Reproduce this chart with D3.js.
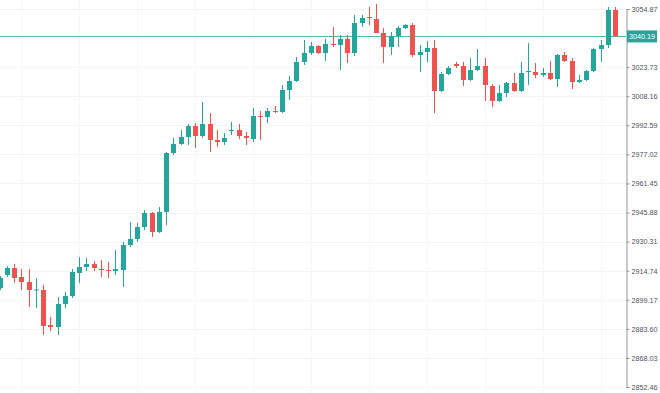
<!DOCTYPE html>
<html>
<head>
<meta charset="utf-8">
<script src="https://cdn.jsdelivr.net/npm/d3@7"></script>
<style>
  body { margin: 0; background: #fff; }
  svg { display: block; font-family: "Liberation Sans", Arial, sans-serif; }
</style>
</head>
<body>
<div id="chart"></div>
<script>
const WIDTH = 660;
const HEIGHT = 393;
const PLOT_RIGHT = 626;

// candle values, oldest first
const opens = [
  2905.47, 2912.43, 2916.18, 2911.36, 2908.68, 2904.39, 2904.39, 2885.65, 2884.58, 2896.90,
  2901.18, 2913.50, 2916.71, 2918.32, 2915.64, 2915.10, 2914.57, 2915.10, 2928.49, 2931.71,
  2938.13, 2945.63, 2935.45, 2946.16, 2977.76, 2982.58, 2986.33, 2992.22, 2986.86, 2993.29,
  2984.72, 2983.65, 2989.54, 2990.07, 2986.86, 2985.26, 2997.57, 2997.04, 3000.25, 2999.71,
  3011.49, 3016.31, 3026.49, 3031.31, 3035.06, 3031.31, 3036.13, 3035.59, 3038.81, 3031.31,
  3047.37, 3050.59, 3049.52, 3042.02, 3034.52, 3040.41, 3044.70, 3046.30, 3030.24, 3031.84,
  3033.99, 3010.96, 3020.06, 3025.42, 3024.35, 3016.85, 3022.20, 3024.35, 3013.64, 3005.60,
  3009.89, 3015.24, 3010.96, 3021.13, 3021.13, 3019.53, 3020.60, 3017.39, 3030.24, 3027.02,
  3015.78, 3016.85, 3021.67, 3033.45, 3035.59, 3054.33
];
const highs = [
  2911.89, 2917.25, 2918.32, 2915.64, 2915.64, 2910.82, 2907.07, 2889.94, 2900.65, 2903.32,
  2915.64, 2922.07, 2921.53, 2919.92, 2920.46, 2919.39, 2925.81, 2930.10, 2940.81, 2940.27,
  2947.23, 2946.16, 2948.84, 2978.29, 2985.79, 2990.07, 2993.29, 2993.82, 3005.07, 2999.18,
  2990.07, 2988.47, 2994.36, 2993.29, 2989.00, 3001.86, 3000.25, 3001.86, 3002.93, 3014.17,
  3018.99, 3029.17, 3038.27, 3037.20, 3035.59, 3038.81, 3045.23, 3040.95, 3040.95, 3051.66,
  3051.66, 3055.94, 3057.55, 3044.70, 3042.55, 3045.77, 3046.84, 3047.37, 3035.59, 3037.73,
  3038.27, 3021.13, 3024.35, 3026.49, 3026.49, 3028.63, 3033.45, 3028.63, 3014.71, 3014.17,
  3015.78, 3020.60, 3026.49, 3036.66, 3025.95, 3023.28, 3027.02, 3030.77, 3031.84, 3028.63,
  3019.53, 3022.20, 3033.99, 3038.27, 3055.94, 3055.94
];
const lows = [
  2904.39, 2911.36, 2908.14, 2904.39, 2895.29, 2894.76, 2880.30, 2882.44, 2880.30, 2894.76,
  2900.11, 2908.14, 2914.57, 2914.57, 2911.36, 2910.82, 2912.43, 2906.00, 2927.42, 2930.10,
  2936.52, 2932.78, 2934.92, 2939.20, 2976.69, 2982.04, 2982.04, 2980.44, 2985.79, 2978.29,
  2980.97, 2982.04, 2987.40, 2985.26, 2982.04, 2983.65, 2984.72, 2993.82, 2999.18, 2999.18,
  3006.14, 3015.78, 3024.88, 3030.24, 3030.77, 3027.02, 3034.52, 3022.20, 3025.95, 3029.70,
  3045.23, 3046.30, 3042.02, 3025.95, 3030.24, 3034.52, 3044.16, 3029.17, 3021.13, 3026.49,
  2999.18, 3010.42, 3019.53, 3023.28, 3013.64, 3016.31, 3021.67, 3005.60, 3002.39, 3005.07,
  3007.75, 3010.42, 3010.42, 3014.17, 3017.92, 3018.46, 3016.85, 3013.10, 3026.49, 3012.03,
  3015.24, 3016.31, 3021.13, 3026.49, 3033.99, 3039.88
];
const closes = [
  2910.82, 2916.18, 2910.82, 2908.68, 2904.39, 2904.66, 2885.12, 2884.58, 2896.90, 2901.18,
  2914.03, 2916.71, 2918.32, 2916.18, 2915.10, 2914.57, 2915.64, 2928.49, 2931.71, 2938.13,
  2945.63, 2935.45, 2946.16, 2977.76, 2982.58, 2986.33, 2992.22, 2986.86, 2993.29, 2984.72,
  2983.65, 2985.79, 2990.07, 2986.86, 2985.79, 2997.57, 2997.04, 3000.25, 2999.71, 3011.49,
  3016.31, 3026.49, 3031.31, 3035.06, 3031.31, 3036.13, 3035.59, 3038.81, 3031.31, 3047.37,
  3050.05, 3050.05, 3042.02, 3034.52, 3040.41, 3044.70, 3046.30, 3030.24, 3031.84, 3033.99,
  3010.96, 3020.06, 3023.28, 3024.35, 3016.85, 3022.20, 3024.35, 3014.17, 3005.60, 3009.89,
  3015.24, 3010.96, 3020.60, 3021.67, 3019.53, 3020.60, 3017.39, 3030.24, 3027.02, 3015.78,
  3016.85, 3021.67, 3033.45, 3035.59, 3054.33, 3040.19
];

const yTicks = [2852.46, 2868.03, 2883.60, 2899.17, 2914.74, 2930.31, 2945.88, 2961.45,
  2977.02, 2992.59, 3008.16, 3023.73, 3039.30, 3054.87];
const lastPrice = 3040.19;

const UP = "#26a69a";
const DOWN = "#ef5350";

const candles = opens.map((o, i) => ({
  i: i, open: o, high: highs[i], low: lows[i], close: closes[i]
}));

const svg = d3.select("#chart").append("svg")
  .attr("width", WIDTH)
  .attr("height", HEIGHT);

const X_SCALE = d3.scaleLinear().domain([0, candles.length - 1]).range([-0.4, 615]);
const Y_SCALE = d3.scaleLinear().domain([2852.46, 3054.87]).range([387, 9]);

// grid
svg.append("g").selectAll("line")
  .data(yTicks)
  .enter().append("line")
  .attr("x1", 0).attr("x2", PLOT_RIGHT)
  .attr("y1", d => Math.round(Y_SCALE(d)) + 0.5)
  .attr("y2", d => Math.round(Y_SCALE(d)) + 0.5)
  .attr("stroke", "#f2f3f6");

svg.append("g").selectAll("line")
  .data(d3.range(3, candles.length, 8))
  .enter().append("line")
  .attr("y1", 0).attr("y2", HEIGHT)
  .attr("x1", d => Math.round(X_SCALE(d)) + 0.5)
  .attr("x2", d => Math.round(X_SCALE(d)) + 0.5)
  .attr("stroke", "#f5f6f8");

// last price line
svg.append("line")
  .attr("x1", 0).attr("x2", PLOT_RIGHT)
  .attr("y1", Math.round(Y_SCALE(lastPrice)) + 0.5)
  .attr("y2", Math.round(Y_SCALE(lastPrice)) + 0.5)
  .attr("stroke", UP)
  .attr("stroke-opacity", 0.8);

// candles
const g = svg.append("g");
const color = d => (d.close >= d.open ? UP : DOWN);

g.selectAll(".wick")
  .data(candles)
  .enter().append("line")
  .attr("class", "wick")
  .attr("x1", d => Math.round(X_SCALE(d.i)) + 0.5)
  .attr("x2", d => Math.round(X_SCALE(d.i)) + 0.5)
  .attr("y1", d => Y_SCALE(d.high))
  .attr("y2", d => Y_SCALE(d.low))
  .attr("stroke", color);

g.selectAll(".body")
  .data(candles)
  .enter().append("rect")
  .attr("class", "body")
  .attr("x", d => Math.round(X_SCALE(d.i)) - 2)
  .attr("width", 5)
  .attr("y", d => Y_SCALE(Math.max(d.open, d.close)))
  .attr("height", d => Math.max(1, Math.abs(Y_SCALE(d.open) - Y_SCALE(d.close))))
  .attr("fill", color);

// right price axis
const axis = svg.append("g")
  .attr("transform", "translate(" + (PLOT_RIGHT + 0.5) + ",0)")
  .call(d3.axisRight(Y_SCALE)
    .tickValues(yTicks.filter(t => Math.abs(Y_SCALE(t) - Y_SCALE(lastPrice)) > 8))
    .tickSize(3)
    .tickPadding(2)
    .tickFormat(d3.format(".2f")));

axis.select(".domain").attr("stroke", "#8f939b");
axis.selectAll(".tick line").attr("stroke", "#8f939b");
axis.selectAll("text")
  .attr("fill", "#4c525e")
  .attr("font-size", "7.2px")
  .attr("font-family", "'Liberation Sans', Arial, sans-serif");

// last price label
const ly = Y_SCALE(lastPrice);
svg.append("rect")
  .attr("x", PLOT_RIGHT + 1)
  .attr("y", ly - 6)
  .attr("width", 30)
  .attr("height", 12)
  .attr("fill", UP);

svg.append("text")
  .attr("x", PLOT_RIGHT + 3)
  .attr("y", ly)
  .attr("dy", "0.32em")
  .attr("fill", "#fff")
  .attr("font-size", "7.2px")
  .text(d3.format(".2f")(lastPrice));
</script>
</body>
</html>
